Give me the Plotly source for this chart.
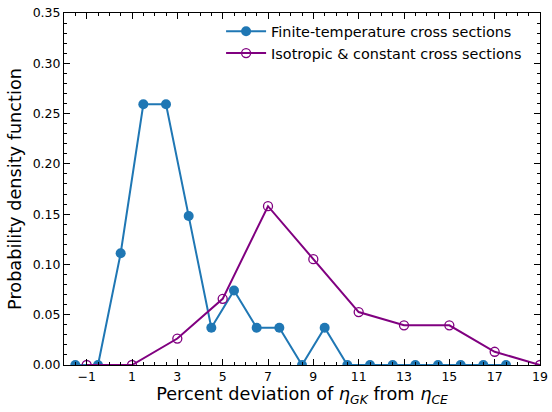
import plotly.graph_objects as go

# Data
blue_x = [-1.5, -0.5, 0.5, 1.5, 2.5, 3.5, 4.5, 5.5, 6.5, 7.5, 8.5, 9.5,
          10.5, 11.5, 12.5, 13.5, 14.5, 15.5, 16.5, 17.5]
blue_y = [0, 0, 3/27, 7/27, 7/27, 4/27, 1/27, 2/27, 1/27, 1/27, 0, 1/27,
          0, 0, 0, 0, 0, 0, 0, 0]
purple_x = [-1, 1, 3, 5, 7, 9, 11, 13, 15, 17, 19]
purple_y = [0, 0, 2/76, 5/76, 12/76, 8/76, 4/76, 3/76, 3/76, 1/76, 0]
blue_name = "Finite-temperature cross sections"
purple_name = "Isotropic &amp; constant cross sections"
x_ticks = [-1, 1, 3, 5, 7, 9, 11, 13, 15, 17, 19]
y_ticks = [0, 0.05, 0.10, 0.15, 0.20, 0.25, 0.30, 0.35]

fig = go.Figure()
fig.add_trace(go.Scatter(
    x=blue_x, y=blue_y, mode="lines+markers", name=blue_name,
    line=dict(color="#1f77b4", width=2),
    marker=dict(symbol="circle", size=10, color="#1f77b4"),
))
fig.add_trace(go.Scatter(
    x=purple_x, y=purple_y, mode="lines+markers", name=purple_name,
    line=dict(color="purple", width=2),
    marker=dict(symbol="circle-open", size=9, color="purple", line=dict(width=1.3)),
))

font = "DejaVu Sans, sans-serif"
axis_common = dict(
    showgrid=False, zeroline=False, showline=True, linecolor="black", linewidth=1,
    mirror="allticks", ticks="inside", ticklen=6, tickwidth=1, tickcolor="black",
    tickfont=dict(family=font, size=12.5, color="black"), automargin=False,
)
fig.update_xaxes(
    range=[-2, 19], tickvals=x_ticks, ticktext=[("\u2212" + str(-v)) if v < 0 else str(v) for v in x_ticks],
    minor=dict(dtick=0.5, tick0=-1, ticks="inside", ticklen=3, tickcolor="black"),
    title=dict(text="Percent deviation of <i>η</i><sub><i>GK</i></sub> from <i>η</i><sub><i>CE</i></sub>",
               font=dict(family=font, size=17.7, color="black"), standoff=4),
    **axis_common,
)
fig.update_yaxes(
    range=[0, 0.35], tickvals=y_ticks, tickformat=".2f",
    minor=dict(dtick=0.01, ticks="inside", ticklen=3, tickcolor="black"),
    title=dict(text="Probability density function",
               font=dict(family=font, size=17.7, color="black"), standoff=6),
    **axis_common,
)
fig.update_layout(
    width=552, height=412,
    margin=dict(l=64, r=12, t=13, b=47),
    plot_bgcolor="white", paper_bgcolor="white",
    font=dict(family=font, size=13, color="black"),
    legend=dict(x=0.33, y=0.993, xanchor="left", yanchor="top",
                bgcolor="rgba(255,255,255,0)", font=dict(family=font, size=14.4),
                tracegroupgap=0, itemwidth=40),
    showlegend=True,
)
fig.write_html("out.html")
